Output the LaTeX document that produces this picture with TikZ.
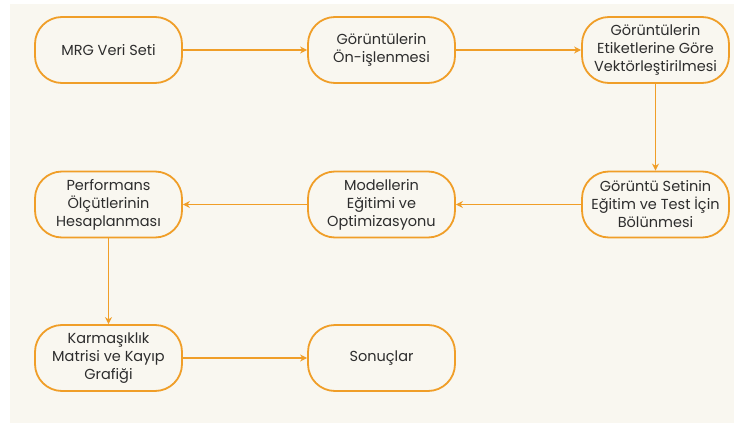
\documentclass[tikz,border=0pt]{standalone}
\usepackage{fontspec}
\setmainfont{Poppins}
\usetikzlibrary{arrows.meta}
\definecolor{bg}{RGB}{249,247,240}
\definecolor{orng}{RGB}{240,158,40}
\definecolor{txt}{RGB}{45,45,45}
\begin{document}
\begin{tikzpicture}[x=1pt,y=-1pt,
  box/.style={draw=orng, line width=1.8pt, fill=bg, rounded corners=27pt,
    minimum width=147pt, minimum height=66pt, align=center,
    font=\fontsize{14.5}{18}\selectfont, text=txt, inner sep=0pt},
  conn/.style={draw=orng, line width=1.6pt, -{Stealth[length=7pt,width=7pt]}}]
\useasboundingbox (0,0) rectangle (734,423);
\fill[white] (0,0) rectangle (734,423);
\fill[bg] (10,4) rectangle (734,423);
\node[box] (a) at (108.5,50) {MRG Veri Seti};
\node[box] (b) at (381.5,50) {Görüntülerin\\Ön-işlenmesi};
\node[box] (c) at (655.5,50) {Görüntülerin\\Etiketlerine Göre\\Vektörleştirilmesi};
\node[box] (d) at (655.5,204.5) {Görüntü Setinin\\Eğitim ve Test İçin\\Bölünmesi};
\node[box] (e) at (381.5,204.5) {Modellerin\\Eğitimi ve\\Optimizasyonu};
\node[box] (f) at (108.5,204.5) {Performans\\Ölçütlerinin\\Hesaplanması};
\node[box] (g) at (108.5,358) {Karmaşıklık\\Matrisi ve Kayıp\\Grafiği};
\node[box] (h) at (381.5,358) {Sonuçlar};
\draw[conn] (a) -- (b);
\draw[conn] (b) -- (c);
\draw[conn] (c) -- (d);
\draw[conn] (d) -- (e);
\draw[conn] (e) -- (f);
\draw[conn] (f) -- (g);
\draw[conn] (g) -- (h);
\end{tikzpicture}
\end{document}
